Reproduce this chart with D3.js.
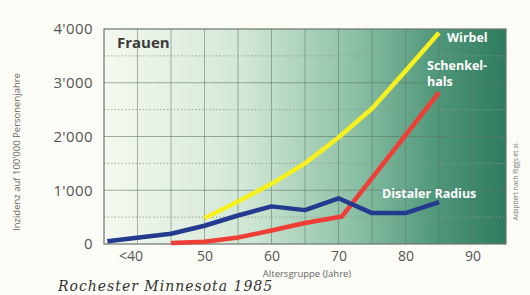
<!DOCTYPE html>
<html>
<head>
<meta charset="utf-8">
<script src="https://cdn.jsdelivr.net/npm/d3@7"></script>
<style>
  body { margin: 0; background: #fcfcf6; }
  svg { display: block; font-family: "Open Sans", sans-serif; }
</style>
</head>
<body>
<script>
// values (Inzidenz pro 100'000 Personenjahre)
const radiusAges = [35.5, 45, 50, 55, 60, 65, 70, 75, 80, 85];
const radiusVals = [50, 190, 340, 530, 700, 630, 850, 575, 575, 780];
const halsAges = [45, 50, 55, 60, 65, 70.5, 85];
const halsVals = [20, 40, 120, 250, 390, 510, 2820];
const wirbelAges = [50, 55, 60, 65, 70, 75, 80, 85];
const wirbelVals = [480, 790, 1120, 1500, 1980, 2520, 3220, 3930];

const xTicks = [40, 50, 60, 70, 80, 90];
const xTickLabels = ["<40", "50", "60", "70", "80", "90"];
const yTicks = [0, 1000, 2000, 3000, 4000];

const width = 530, height = 295;
const svg = d3.select("body").append("svg")
    .attr("width", width)
    .attr("height", height);

const x = d3.scaleLinear().domain([35, 95]).range([104, 506]);
const y = d3.scaleLinear().domain([0, 4000]).range([244, 29]);

const swiss = d3.formatLocale({decimal: ".", thousands: "'", grouping: [3], currency: ["", ""]});
const fmt = swiss.format(",");

// background gradient of the plot
const defs = svg.append("defs");
const grad = defs.append("linearGradient").attr("id", "bg")
    .attr("x1", "0%").attr("x2", "100%").attr("y1", "0%").attr("y2", "0%");
grad.append("stop").attr("offset", "0%").attr("stop-color", "#f5f9f0");
grad.append("stop").attr("offset", "35%").attr("stop-color", "#d2e7d6");
grad.append("stop").attr("offset", "62%").attr("stop-color", "#8cc1a6");
grad.append("stop").attr("offset", "82%").attr("stop-color", "#52987b");
grad.append("stop").attr("offset", "100%").attr("stop-color", "#2e7b5f");

svg.append("rect")
    .attr("x", x(35)).attr("y", y(4000))
    .attr("width", x(95) - x(35)).attr("height", y(0) - y(4000))
    .attr("fill", "url(#bg)");

// grid
const grid = svg.append("g");
grid.selectAll(".v").data(d3.range(40, 95, 5)).join("line")
    .attr("x1", d => x(d)).attr("x2", d => x(d))
    .attr("y1", y(4000)).attr("y2", y(0))
    .attr("stroke", "#5f7a68").attr("stroke-opacity", 0.55).attr("stroke-width", 1);
grid.selectAll(".h").data([1000, 2000, 3000]).join("line")
    .attr("x1", x(35)).attr("x2", x(95))
    .attr("y1", d => y(d)).attr("y2", d => y(d))
    .attr("stroke", "#5f7a68").attr("stroke-opacity", 0.6).attr("stroke-width", 1);
grid.selectAll(".d").data([500, 1500, 2500, 3500]).join("line")
    .attr("x1", x(35)).attr("x2", x(95))
    .attr("y1", d => y(d)).attr("y2", d => y(d))
    .attr("stroke", "#8a9a88").attr("stroke-opacity", 0.8)
    .attr("stroke-width", 1).attr("stroke-dasharray", "1.5,2");

// frame
svg.append("rect")
    .attr("x", x(35)).attr("y", y(4000))
    .attr("width", x(95) - x(35)).attr("height", y(0) - y(4000))
    .attr("fill", "none").attr("stroke", "#6b756e").attr("stroke-width", 1.2);

// axes
const yAxis = d3.axisLeft(y).tickValues(yTicks).tickFormat(fmt).tickSize(0).tickPadding(11);
svg.append("g").attr("transform", `translate(${x(35)},0)`).call(yAxis)
    .call(g => g.select(".domain").remove())
    .selectAll("text").attr("font-size", 15).attr("fill", "#555")
    .attr("font-family", "Open Sans, sans-serif").attr("letter-spacing", 0.4);

const xAxis = d3.axisBottom(x).tickValues(xTicks)
    .tickFormat((d, i) => xTickLabels[i]).tickSize(0).tickPadding(7);
svg.append("g").attr("transform", `translate(0,${y(0)})`).call(xAxis)
    .call(g => g.select(".domain").remove())
    .selectAll("text").attr("font-size", 14).attr("fill", "#555")
    .attr("font-family", "Open Sans, sans-serif")
    .attr("dx", (d, i) => i === 0 ? -7 : 0);

// lines
const line = (ages) => d3.line().x((d, i) => x(ages[i])).y(d => y(d));
const series = [
  {ages: halsAges, vals: halsVals, color: "#ee3e36"},
  {ages: radiusAges, vals: radiusVals, color: "#233a8e"},
  {ages: wirbelAges, vals: wirbelVals, color: "#f6f01e"}
];
svg.selectAll(".series").data(series).join("path")
    .attr("d", s => line(s.ages)(s.vals))
    .attr("fill", "none")
    .attr("stroke", s => s.color)
    .attr("stroke-width", 4.5)
    .attr("stroke-linejoin", "round");

// labels
svg.append("text").attr("x", 117).attr("y", 48)
    .attr("font-size", 15).attr("font-weight", "bold").attr("fill", "#3a3a3a")
    .text("Frauen");

const lab = svg.append("g").attr("fill", "#fff").attr("font-weight", "bold").attr("font-size", 12.5);
lab.append("text").attr("x", 447).attr("y", 42).text("Wirbel");
lab.append("text").attr("x", 427).attr("y", 70).text("Schenkel-");
lab.append("text").attr("x", 427).attr("y", 86).text("hals");
lab.append("text").attr("x", 382).attr("y", 198).text("Distaler Radius");

// axis titles
svg.append("text")
    .attr("transform", "translate(20,152) rotate(-90)")
    .attr("text-anchor", "middle").attr("font-size", 9.5).attr("fill", "#666")
    .text("Inzidenz auf 100'000 Personenjahre");
svg.append("text")
    .attr("x", 307).attr("y", 277).attr("text-anchor", "middle")
    .attr("font-size", 9.5).attr("fill", "#666")
    .text("Altersgruppe (Jahre)");
svg.append("text")
    .attr("transform", "translate(518,181) rotate(-90)")
    .attr("text-anchor", "middle").attr("font-size", 6.5).attr("fill", "#777")
    .text("Adaptiert nach Riggs et al.");

// handwritten note at the bottom
svg.append("text")
    .attr("x", 58).attr("y", 291)
    .attr("font-family", "DejaVu Serif, serif").attr("font-style", "italic")
    .attr("font-size", 14).attr("fill", "#333").attr("letter-spacing", 1)
    .text("Rochester Minnesota   1985");
</script>
</body>
</html>
